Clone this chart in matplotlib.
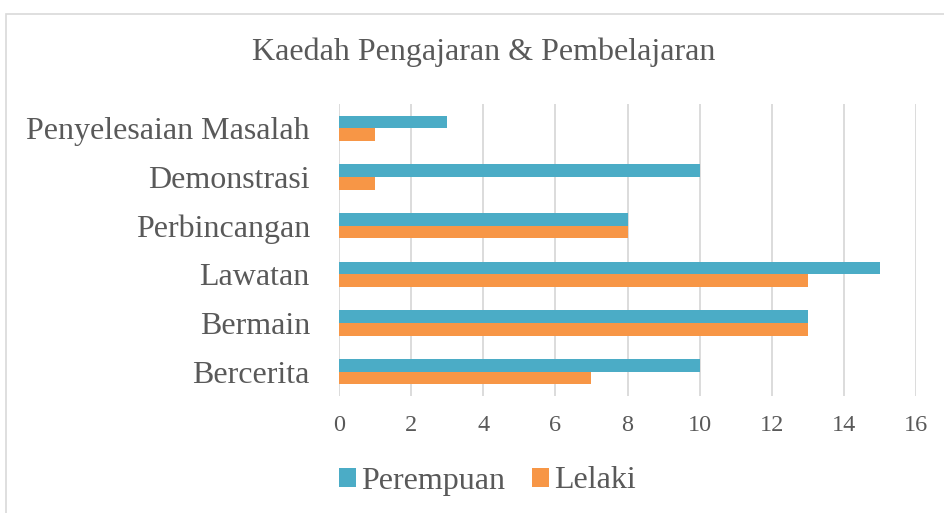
import numpy as np
import matplotlib
matplotlib.use("Agg")
import matplotlib.pyplot as plt
from matplotlib.patches import Rectangle

# Data (bottom to top as drawn)
categories = ["Bercerita", "Bermain", "Lawatan", "Perbincangan", "Demonstrasi", "Penyelesaian Masalah"]
perempuan = [10, 13, 15, 8, 10, 3]
lelaki = [7, 13, 13, 8, 1, 1]
xticks = [0, 2, 4, 6, 8, 10, 12, 14, 16]

TEAL = "#4BACC6"
ORANGE = "#F79646"
TEXT = "#595959"
GRID = "#D9D9D9"

plt.rcParams["font.family"] = ["Liberation Serif", "DejaVu Serif"]

fig = plt.figure(figsize=(9.44, 5.13), dpi=100)
ax = fig.add_axes([339 / 944, 1 - 396 / 513, (916 - 339) / 944, (396 - 104) / 513])

# outer chart border
fig.patches.append(Rectangle((5.5 / 944, -0.1), 2, 1 - 13.5 / 513 + 0.1,
                             transform=fig.transFigure, fill=False,
                             edgecolor=GRID, linewidth=1.2))

y = np.arange(len(categories))
h = 0.26
ax.barh(y + h / 2, perempuan, height=h, color=TEAL, label="Perempuan", zorder=3)
ax.barh(y - h / 2, lelaki, height=h, color=ORANGE, label="Lelaki", zorder=3)

ax.set_xlim(0, 16)
ax.set_ylim(-0.5, len(categories) - 0.5)
ax.set_xticks(xticks)
ax.set_yticks(y)
ax.set_yticklabels(categories, fontsize=23, color=TEXT)
ax.tick_params(axis="x", labelsize=17.5, colors=TEXT, length=0, pad=14)
ax.tick_params(axis="y", length=0, pad=21)
ax.grid(axis="x", color=GRID, linewidth=1.3, zorder=0)
for s in ax.spines.values():
    s.set_visible(False)

fig.text(484 / 944, 1 - 52 / 513, "Kaedah Pengajaran & Pembelajaran",
         ha="center", va="center", fontsize=23, color=TEXT)

leg = fig.legend(loc="center", bbox_to_anchor=(487.5 / 944, 1 - 481 / 513), ncol=2,
                 frameon=False, fontsize=23, handlelength=0.53, handleheight=0.53,
                 handletextpad=0.16, columnspacing=0.85, borderpad=0)
for t in leg.get_texts():
    t.set_color(TEXT)

fig.savefig("out.png", dpi=100)
